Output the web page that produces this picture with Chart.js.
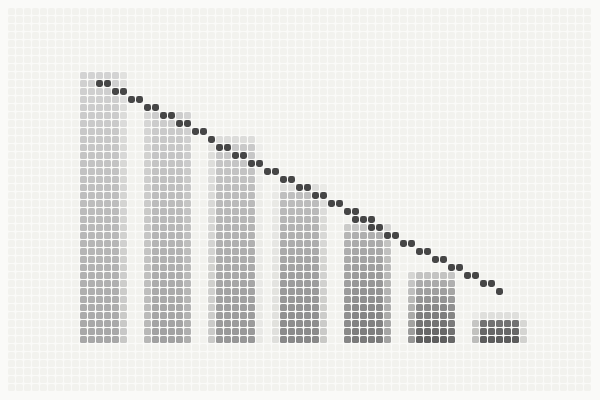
<!DOCTYPE html>
<html><head><meta charset="utf-8">
<script src="https://cdn.jsdelivr.net/npm/chart.js@4.4.1/dist/chart.umd.min.js"></script>
<style>html,body{margin:0;padding:0;background:#fafaf8;}canvas{display:block;}</style>
</head><body>
<canvas id="c" width="600" height="400"></canvas>
<script>
// ---- data ----
const categories = ['1', '2', '3', '4', '5', '6', '7'];
const barValues = [97, 83, 73, 55.5, 42, 25, 9];
const lineValues = [92.8, 81.4, 68.3, 56.3, 43.7, 31.2, 19.4];

// ---- styles ----
const barTopColors = ['#d2d2d2', '#cecece', '#cbcbcb', '#c2c2c2', '#b4b4b4', '#b8b8b8', '#7a7a7a'];
const barBottomColors = ['#a6a6a6', '#a0a0a0', '#969696', '#868686', '#787878', '#585858', '#565656'];
const lineColor = '#464646';
const pageBg = [250, 250, 248];
const cellBg = [242, 242, 238];
const PITCH = 8, CELL = 7, COLS = 73, ROWS = 48, ORIGIN = 8;

const layers = {};
function clearAll(chart) {
  const c = chart.ctx;
  c.save(); c.setTransform(1, 0, 0, 1, 0, 0);
  c.clearRect(0, 0, chart.canvas.width, chart.canvas.height);
  c.restore();
}
function rr(c, x, y, w, h, r) {
  c.beginPath();
  c.moveTo(x + r, y); c.lineTo(x + w - r, y); c.quadraticCurveTo(x + w, y, x + w, y + r);
  c.lineTo(x + w, y + h - r); c.quadraticCurveTo(x + w, y + h, x + w - r, y + h);
  c.lineTo(x + r, y + h); c.quadraticCurveTo(x, y + h, x, y + h - r);
  c.lineTo(x, y + r); c.quadraticCurveTo(x, y, x + r, y);
  c.closePath(); c.fill();
}
const dotMatrix = {
  id: 'dotMatrix',
  beforeDatasetsDraw(chart) { clearAll(chart); },
  afterDatasetDraw(chart, args) {
    const cv = chart.canvas;
    layers[args.meta.type] = chart.ctx.getImageData(0, 0, cv.width, cv.height);
    clearAll(chart);
  },
  afterDraw(chart) {
    const c = chart.ctx, cv = chart.canvas, W = cv.width, H = cv.height;
    c.save(); c.setTransform(1, 0, 0, 1, 0, 0);
    c.fillStyle = `rgb(${pageBg.join(',')})`;
    c.fillRect(0, 0, W, H);
    const bd = layers.bar ? layers.bar.data : null;
    const ld = layers.line ? layers.line.data : null;
    for (let j = 0; j < ROWS; j++) {
      for (let i = 0; i < COLS; i++) {
        const x0 = ORIGIN + PITCH * i, y0 = ORIGIN + PITCH * j;
        let r = cellBg[0], g = cellBg[1], b = cellBg[2];
        if (bd) {
          let sr = 0, sg = 0, sb = 0, sa = 0, n = 0;
          for (let yy = y0; yy < y0 + PITCH && yy < H; yy++) {
            for (let xx = x0; xx < x0 + PITCH && xx < W; xx++) {
              const k = (yy * W + xx) * 4;
              const a = bd[k + 3] / 255;
              sr += bd[k] * a; sg += bd[k + 1] * a; sb += bd[k + 2] * a; sa += a; n++;
            }
          }
          const A = sa / n;
          r = cellBg[0] * (1 - A) + sr / n;
          g = cellBg[1] * (1 - A) + sg / n;
          b = cellBg[2] * (1 - A) + sb / n;
        }
        let hit = false;
        if (ld) {
          let sa = 0;
          for (let yy = y0 + 3; yy <= y0 + 4; yy++)
            for (let xx = x0 + 3; xx <= x0 + 4; xx++)
              sa += ld[(yy * W + xx) * 4 + 3];
          hit = sa / 4 > 128;
        }
        if (hit) {
          c.fillStyle = lineColor;
          rr(c, x0, y0, CELL, CELL, 2.4);
        } else {
          c.fillStyle = `rgb(${Math.round(r)},${Math.round(g)},${Math.round(b)})`;
          rr(c, x0, y0, CELL, CELL, 1.6);
        }
      }
    }
    c.restore();
  }
};

new Chart(document.getElementById('c'), {
  data: {
    labels: categories,
    datasets: [
      {
        type: 'bar',
        data: barValues,
        order: 2,
        borderWidth: 0,
        barPercentage: 0.672,
        categoryPercentage: 1,
        backgroundColor: (ctx) => {
          const chart = ctx.chart, i = ctx.dataIndex;
          if (!chart.chartArea || ctx.type !== 'data' || !chart.scales.y) return barBottomColors[i] || '#999';
          const yTop = chart.scales.y.getPixelForValue(ctx.parsed.y);
          const yBase = chart.scales.y.getPixelForValue(0);
          const gr = chart.ctx.createLinearGradient(0, yTop, 0, yBase);
          gr.addColorStop(0, barTopColors[i]);
          gr.addColorStop(1, barBottomColors[i]);
          return gr;
        }
      },
      {
        type: 'line',
        data: lineValues,
        order: 1,
        borderColor: '#000',
        borderWidth: 7.4,
        borderCapStyle: 'round',
        borderJoinStyle: 'round',
        tension: 0,
        pointRadius: 0,
        fill: false
      }
    ]
  },
  options: {
    responsive: false,
    devicePixelRatio: 1,
    animation: false,
    events: [],
    layout: { padding: { left: 69.15, right: 67.45, top: 64, bottom: 56 } },
    plugins: { legend: { display: false }, tooltip: { enabled: false } },
    scales: {
      x: { display: false, offset: true },
      y: { display: false, min: 0, max: 100 }
    }
  },
  plugins: [dotMatrix]
});
</script>
</body></html>
